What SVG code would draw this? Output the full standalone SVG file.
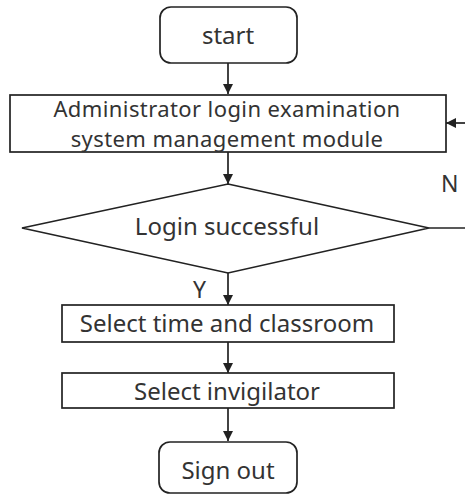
<svg xmlns="http://www.w3.org/2000/svg" width="465" height="494" viewBox="0 0 465 494">
  <style>
    .box { fill: #ffffff; stroke: #222222; stroke-width: 1.7; }
    .lbl { font-family: "Noto Sans", "Liberation Sans", sans-serif; font-size: 24px; fill: #333333; text-anchor: middle; }
    .two { font-size: 22px; letter-spacing: 0.4px; }
    .tag { font-family: "Noto Sans", "Liberation Sans", sans-serif; font-size: 23px; fill: #333333; }
    .wire { fill: none; stroke: #222222; stroke-width: 1.7; }
  </style>
  <defs>
    <marker id="arrow" viewBox="0 0 10 10" refX="10" refY="5" markerWidth="10" markerHeight="11" markerUnits="userSpaceOnUse" orient="auto">
      <path d="M0,0 L10,5 L0,10 Z" fill="#222222"/>
    </marker>
  </defs>
  <rect width="465" height="494" fill="#ffffff"/>

  <g id="connectors">
    <line class="wire" x1="228" y1="63" x2="228" y2="94" marker-end="url(#arrow)"/>
    <line class="wire" x1="228" y1="152" x2="228" y2="184" marker-end="url(#arrow)"/>
    <line class="wire" x1="228" y1="273" x2="228" y2="305" marker-end="url(#arrow)"/>
    <line class="wire" x1="228" y1="342" x2="228" y2="373" marker-end="url(#arrow)"/>
    <line class="wire" x1="228" y1="408" x2="228" y2="441" marker-end="url(#arrow)"/>
    <line class="wire" x1="429" y1="228" x2="466" y2="228"/>
    <line class="wire" x1="466" y1="123" x2="446" y2="123" marker-end="url(#arrow)"/>
    <text class="tag" x="441" y="192">N</text>
    <text class="tag" x="193" y="298">Y</text>
  </g>

  <g id="start">
    <rect class="box" x="160" y="7" width="137" height="56" rx="11"/>
    <text class="lbl" x="228" y="44">start</text>
  </g>

  <g id="admin-login">
    <rect class="box" x="10" y="95" width="436" height="57"/>
    <text class="lbl two" x="227" y="117">Administrator login examination</text>
    <text class="lbl two" x="227" y="147">system management module</text>
  </g>

  <g id="login-check">
    <polygon class="box" points="228,184 429,228 228,273 22,228"/>
    <text class="lbl" x="227" y="235">Login successful</text>
  </g>

  <g id="select-time">
    <rect class="box" x="62" y="305" width="332" height="37"/>
    <text class="lbl" x="227" y="332">Select time and classroom</text>
  </g>

  <g id="select-invigilator">
    <rect class="box" x="62" y="373" width="332" height="35"/>
    <text class="lbl" x="227" y="400">Select invigilator</text>
  </g>

  <g id="sign-out">
    <rect class="box" x="159" y="442" width="138" height="51" rx="11"/>
    <text class="lbl" x="228" y="479">Sign out</text>
  </g>
</svg>
